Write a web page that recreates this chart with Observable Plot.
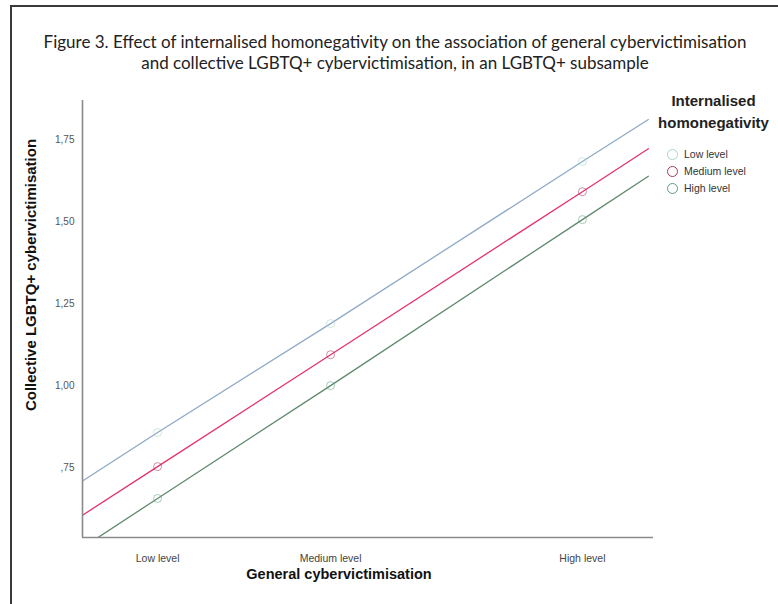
<!DOCTYPE html>
<html>
<head>
<meta charset="utf-8">
<script src="https://cdn.jsdelivr.net/npm/d3@7"></script>
<script src="https://cdn.jsdelivr.net/npm/@observablehq/plot@0.6"></script>
<style>
  html, body { margin: 0; padding: 0; background: #fff; }
  #wrap { position: relative; width: 778px; height: 604px; overflow: hidden; background: #fff; }
  #frame { position: absolute; left: 10px; top: 5px; right: 0; bottom: 0; border-left: 2px solid #3a3a3a; border-top: 2px solid #3a3a3a; }
  #title { position: absolute; left: 12px; right: 0; top: 31px; text-align: center; font-family: Lato, "Open Sans", sans-serif; font-size: 17px; line-height: 21px; color: #222; }
  #chart { position: absolute; left: 0; top: 80px; }
  #chart svg { overflow: visible; }
  #legend { position: absolute; left: 652px; top: 90px; width: 123px; font-family: "Liberation Sans", Arial, sans-serif; color: #333; }
  #legend .lt { text-align: center; font-weight: bold; font-size: 15px; line-height: 22px; color: #222; }
  #legend .item { position: absolute; left: 15px; font-size: 10.5px; display: flex; align-items: center; }
  #legend .item span.c { display: inline-block; width: 9px; height: 9px; border-radius: 50%; border: 1.3px solid; margin-right: 6px; }
</style>
</head>
<body>
<div id="wrap">
  <div id="frame"></div>
  <div id="title">Figure 3. Effect of internalised homonegativity on the association of general cybervictimisation<br>and collective LGBTQ+ cybervictimisation, in an LGBTQ+ subsample</div>
  <div id="chart"></div>
  <div id="legend"></div>
</div>
<script>
// ---- data ----
const groups = ["Low level", "Medium level", "High level"];          // internalised homonegativity
const lineColors = ["#8eaac6", "#e5336a", "#5f8a6d"];
const markerColors = ["#a6d6c6", "#a3385f", "#5f9c82"];
const xLevelLabels = ["Low level", "Medium level", "High level"];   // general cybervictimisation
const xLevelValues = [0.263, 0.869, 1.751];
const xStart = 0, xEnd = 1.982;
// estimated marginal means at low / medium / high general cybervictimisation
const lowValues = [0.857, 1.189, 1.683];
const mediumValues = [0.753, 1.094, 1.591];
const highValues = [0.656, 1.000, 1.506];
// fitted line values at the ends of the x range
const lineStart = [0.709, 0.605, 0.506];
const lineEnd = [1.811, 1.722, 1.638];
const yTicks = [0.75, 1.00, 1.25, 1.50, 1.75];
const yDomain = [0.537, 1.869];
const xDomain = [0, 2];

const seriesValues = [lowValues, mediumValues, highValues];
const points = [];
const lines = [];
groups.forEach((g, i) => {
  lines.push({group: g, x: xStart, y: lineStart[i]});
  xLevelValues.forEach((xv, j) => {
    points.push({group: g, x: xv, y: seriesValues[i][j]});
    lines.push({group: g, x: xv, y: seriesValues[i][j]});
  });
  lines.push({group: g, x: xEnd, y: lineEnd[i]});
});

const fmtY = (v) => d3.format(".2f")(v).replace(/^0\./, ",").replace(".", ",");
const font = '"Liberation Sans", Arial, sans-serif';

const chart = Plot.plot({
  width: 778,
  height: 524,
  marginLeft: 82,
  marginRight: 125,
  marginTop: 20,
  marginBottom: 67,
  style: {fontFamily: font, background: "transparent", color: "#444", overflow: "visible"},
  x: {domain: xDomain},
  y: {domain: yDomain},
  marks: [
    Plot.axisY({ticks: yTicks, tickFormat: fmtY, tickSize: 0, tickPadding: 8, fontSize: 10, label: null, fill: "#555"}),
    Plot.axisX({ticks: xLevelValues, tickFormat: (d) => xLevelLabels[xLevelValues.indexOf(d)], tickSize: 0, tickPadding: 17, fontSize: 10.5, label: null, fill: "#444"}),
    Plot.line(lines, {x: "x", y: "y", z: "group", stroke: (d) => lineColors[groups.indexOf(d.group)], strokeWidth: 1.3, clip: true}),
    Plot.dot(points, {x: "x", y: "y", r: 4, stroke: (d) => markerColors[groups.indexOf(d.group)], strokeWidth: 1, strokeOpacity: 0.55, fill: "none"}),
    Plot.ruleX([xDomain[0]], {stroke: "#8a8a8a", strokeWidth: 1.6}),
    Plot.ruleY([yDomain[0]], {stroke: "#8a8a8a", strokeWidth: 1.6}),
    Plot.text(["Collective LGBTQ+ cybervictimisation"], {frameAnchor: "left", textAnchor: "middle", dx: -51, dy: -44, rotate: -90, fontSize: 15, fontWeight: "bold", fill: "#111"}),
    Plot.text(["General cybervictimisation"], {frameAnchor: "bottom", textAnchor: "middle", dx: -29, dy: 41, fontSize: 14.5, fontWeight: "bold", fill: "#111"})
  ]
});
document.getElementById("chart").appendChild(chart);

// legend
const legend = document.getElementById("legend");
legend.innerHTML = '<div class="lt">Internalised<br>homonegativity</div>';
groups.forEach((g, i) => {
  const it = document.createElement("div");
  it.className = "item";
  it.style.top = (58 + i * 17) + "px";
  it.innerHTML = `<span class="c" style="border-color:${markerColors[i]}"></span>${g}`;
  legend.appendChild(it);
});
</script>
</body>
</html>
